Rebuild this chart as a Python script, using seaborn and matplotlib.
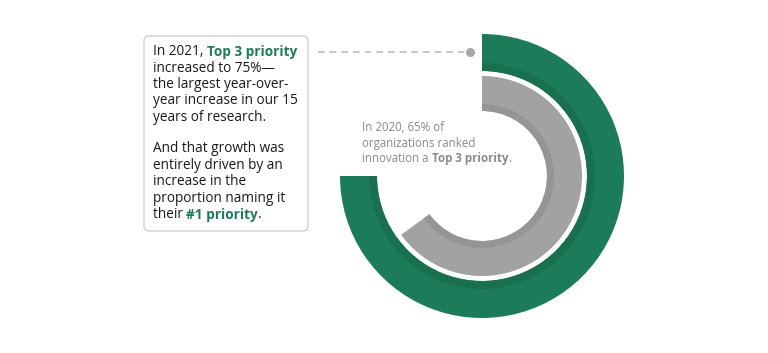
import matplotlib
matplotlib.use("Agg")
import matplotlib.pyplot as plt
import seaborn as sns
from matplotlib.patches import FancyBboxPatch

# share of organizations ranking innovation a Top 3 priority
years = ["2021", "2020"]
top3_share = [75, 65]

ring_colors = {"2021": "#1c7b58", "2020": "#a2a2a2"}
band_colors = {"2021": "#19704f", "2020": "#959595"}

callout_lines = [
    [("In 2021, ", "normal"), ("Top 3 priority", "accent")],
    [("increased to 75%\u2014", "normal")],
    [("the largest year-over-", "normal")],
    [("year increase in our 15", "normal")],
    [("years of research.", "normal")],
    None,
    [("And that growth was", "normal")],
    [("entirely driven by an", "normal")],
    [("increase in the", "normal")],
    [("proportion naming it", "normal")],
    [("their ", "normal"), ("#1 priority", "accent"), (".", "normal")],
]
note_lines = [
    [("In 2020, 65% of", "normal")],
    [("organizations ranked", "normal")],
    [("innovation a ", "normal"), ("Top 3 priority", "bold"), (".", "normal")],
]

sns.set_theme(style="white")
plt.rcParams["font.family"] = ["Open Sans", "DejaVu Sans"]

W, H = 768, 353
fig = plt.figure(figsize=(W / 100, H / 100), dpi=100)
ax = fig.add_axes([0, 0, 1, 1])

cx, cy = 482, H - 176
radii = {"2021": (142, 37), "2020": (100, 35)}
band = {"2021": 8, "2020": 7}

for yr, share in zip(years, top3_share):
    r, w = radii[yr]
    ax.pie([share, 100 - share], center=(cx, cy), radius=r, startangle=90,
           counterclock=False, colors=[ring_colors[yr], "none"],
           wedgeprops=dict(width=w, linewidth=0))
    inner = r - w
    ax.pie([share, 100 - share], center=(cx, cy), radius=inner + band[yr],
           startangle=90, counterclock=False,
           colors=[band_colors[yr], "none"],
           wedgeprops=dict(width=band[yr], linewidth=0))

ax.set_xlim(0, W)
ax.set_ylim(0, H)
ax.set_aspect("equal")
ax.axis("off")

# callout box
box = FancyBboxPatch((144, H - 231), 164, 195,
                     boxstyle="round,pad=0,rounding_size=5",
                     facecolor="white", edgecolor="#d0d0d0", linewidth=1)
ax.add_patch(box)

ax.plot([318, 464], [H - 52, H - 52], color="#bdbdbd", lw=1.2,
        ls=(0, (4, 3)))
ax.plot([470], [H - 52], "o", color="#a8a8a8", ms=5.5)


def write_lines(lines, x, y0, step, size, base_color, accent):
    y = y0
    for line in lines:
        if line is None:
            y += step * 0.9
            continue
        prev = None
        for txt, kind in line:
            color = accent if kind == "accent" else base_color
            weight = "bold" if kind in ("accent", "bold") else "normal"
            if prev is None:
                prev = ax.text(x, H - y, txt, fontsize=size, color=color,
                               fontweight=weight, va="baseline", ha="left")
            else:
                prev = ax.annotate(txt, xy=(1, 0), xycoords=prev,
                                   fontsize=size, color=color,
                                   fontweight=weight, va="bottom", ha="left")
        y += step


write_lines(callout_lines, 153, 55, 16.5, 9.8, "#1a1a1a", "#1c7b58")
write_lines(note_lines, 362, 131, 15.5, 8.3, "#8a8a8a", "#8a8a8a")

fig.savefig("out.png", dpi=100)
